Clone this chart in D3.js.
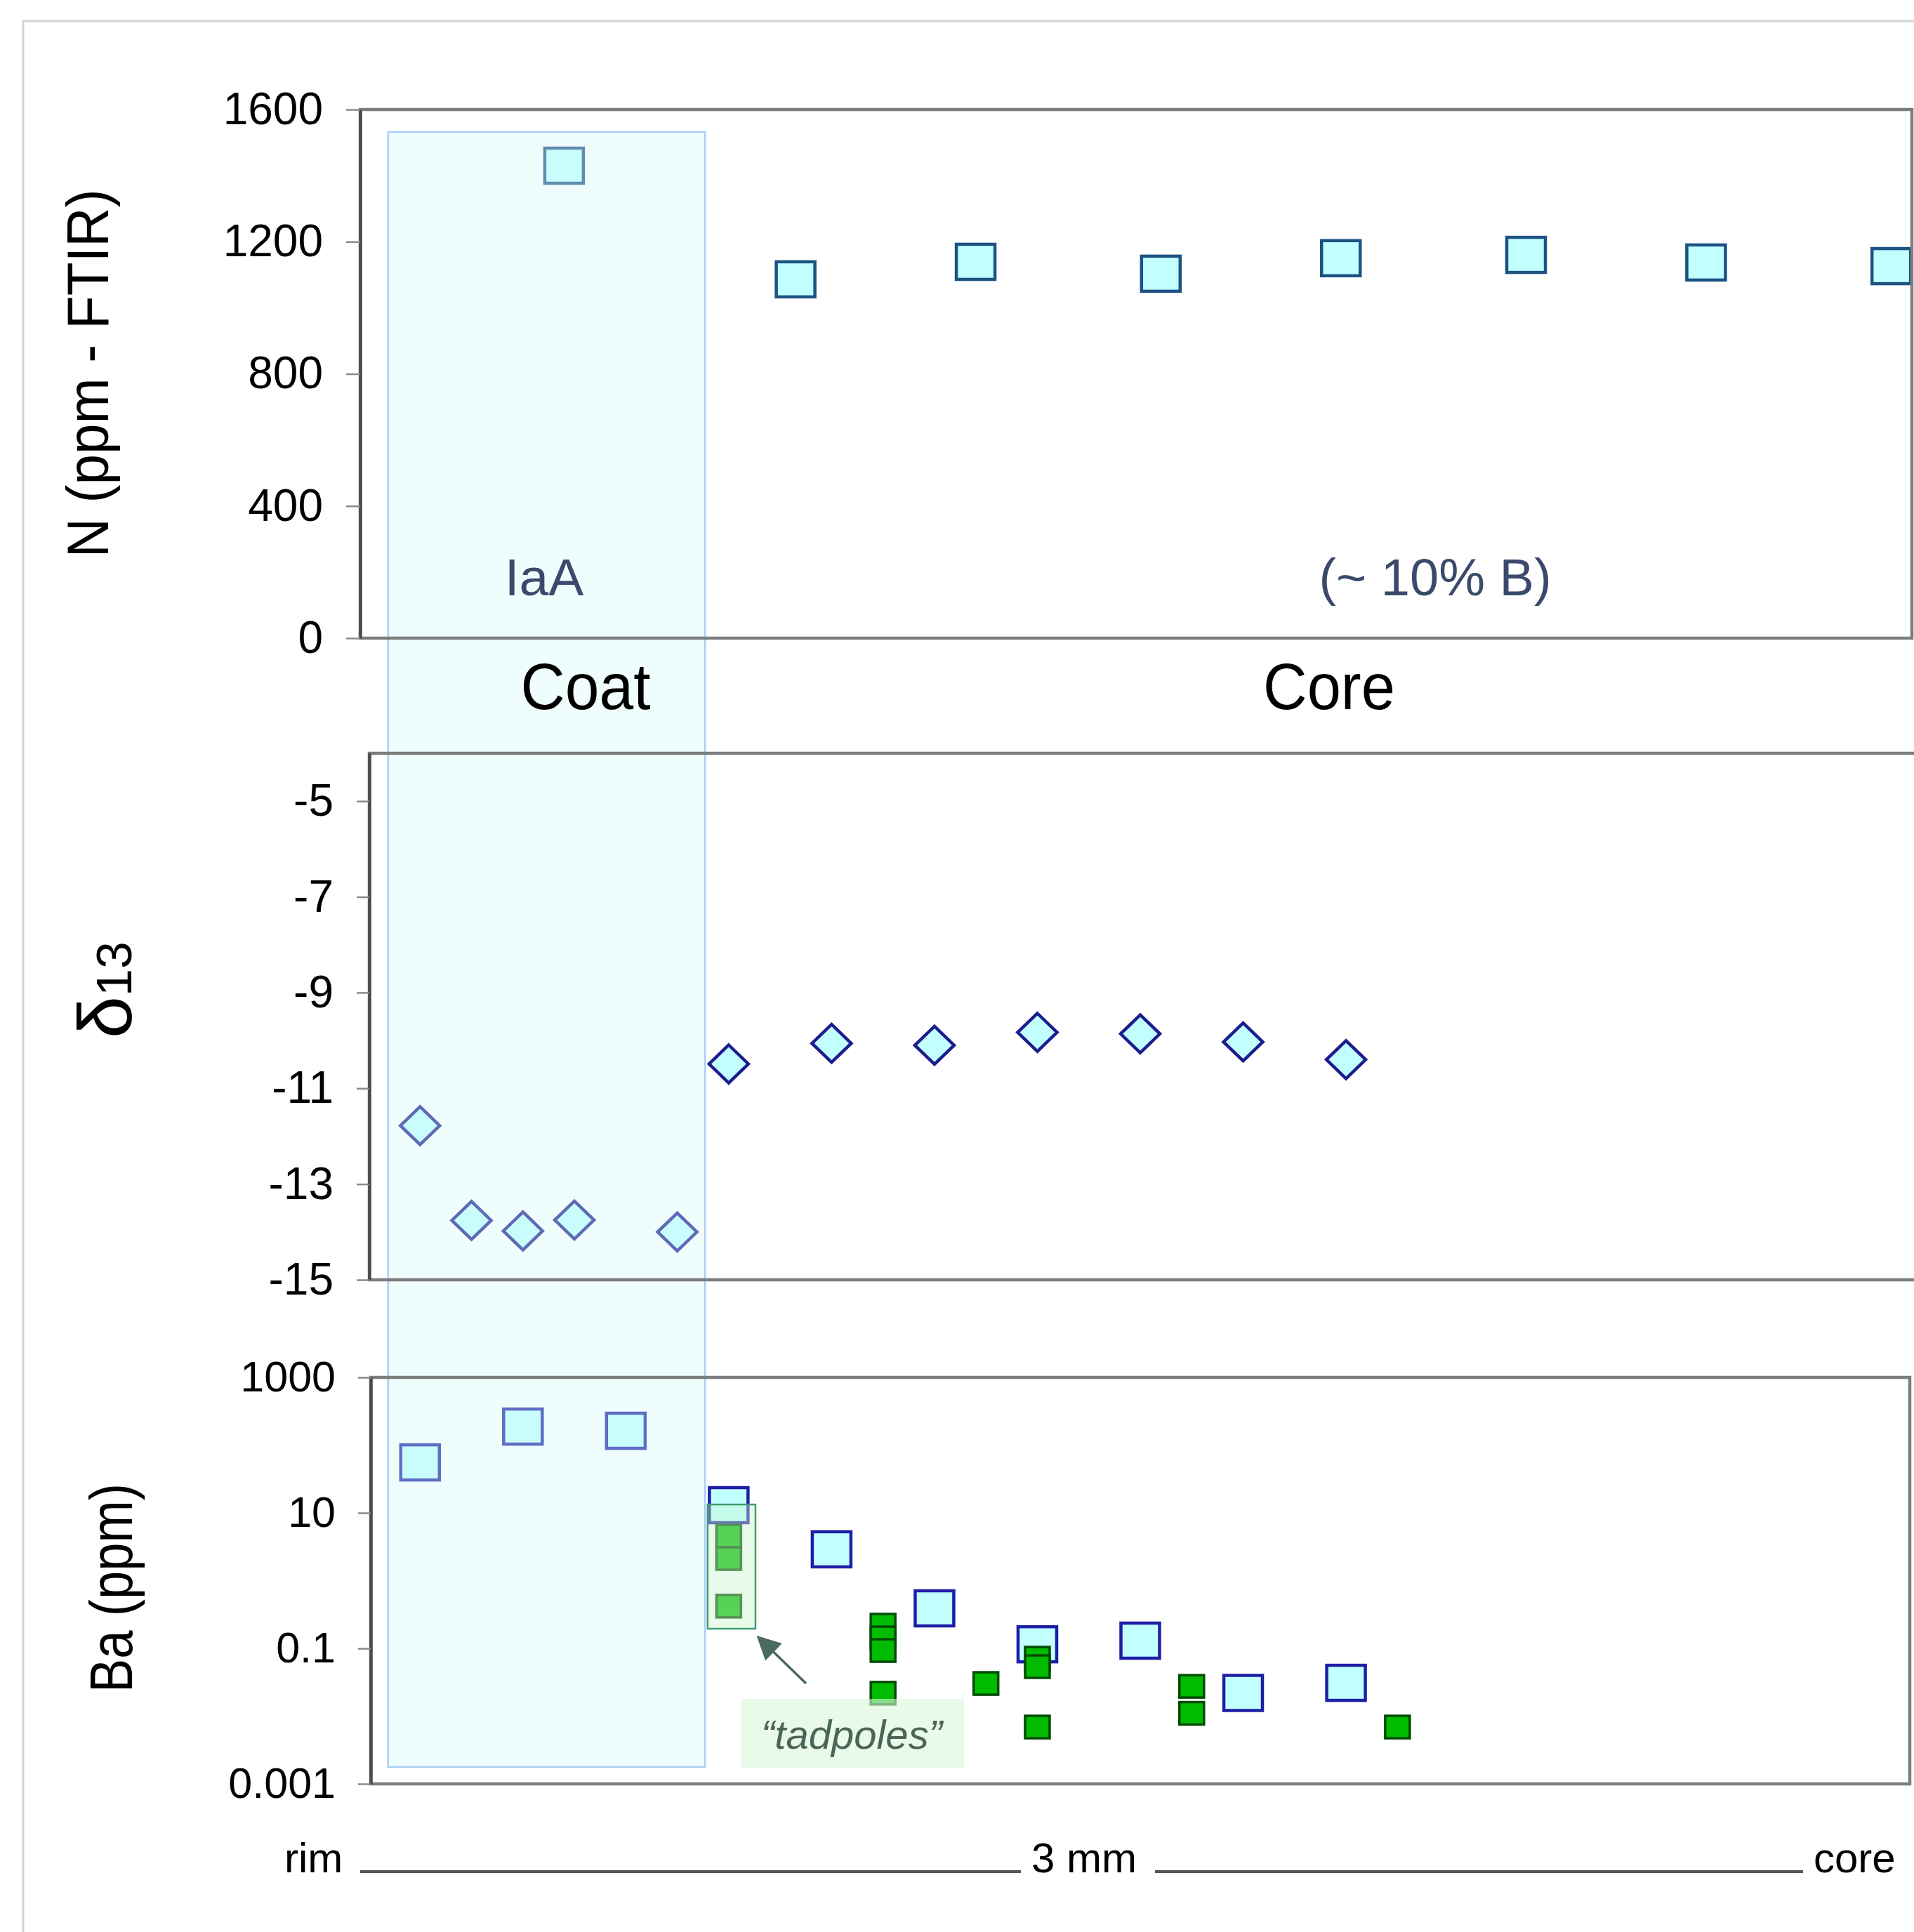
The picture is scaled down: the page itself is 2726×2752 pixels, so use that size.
<!DOCTYPE html>
<html><head><meta charset="utf-8">
<script src="https://cdn.jsdelivr.net/npm/d3@7"></script>
<style>body{margin:0;background:#fff} svg{display:block}</style>
</head><body>
<svg id="c" width="2726" height="2752"></svg>
<script>
// ---- data (x = distance from rim, mm) ----
const nPos = [0.38, 0.83, 1.18, 1.54, 1.89, 2.25, 2.60, 2.96];
const nVal = [1430, 1086, 1139, 1103, 1150, 1160, 1137, 1126];
const nTicks = [0, 400, 800, 1200, 1600];

const dPos = [0.1, 0.2, 0.3, 0.4, 0.6, 0.7, 0.9, 1.1, 1.3, 1.5, 1.7, 1.9];
const dVal = [-11.78, -13.76, -13.98, -13.75, -14.0, -10.49, -10.06, -10.1, -9.83, -9.86, -10.03, -10.4];
const dTicks = [-5, -7, -9, -11, -13, -15];

const baPos = [0.1, 0.3, 0.5, 0.7, 0.9, 1.1, 1.3, 1.5, 1.7, 1.9];
const baVal = [55.6, 188, 163, 13.0, 2.9, 0.39, 0.115, 0.13, 0.022, 0.031];
const tadPos = [0.7, 0.7, 0.7];
const tadVal = [4.55, 2.12, 0.42];
const grPos = [1.0, 1.0, 1.0, 1.0, 1.2, 1.3, 1.3, 1.3, 1.6, 1.6, 2.0];
const grVal = [0.22, 0.143, 0.093, 0.0218, 0.0303, 0.0716, 0.0537, 0.0069, 0.0275, 0.011, 0.0069];
const baTicks = [1000, 10, 0.1, 0.001];
const baTickLabels = ["1000", "10", "0.1", "0.001"];

const coatRange = [0.038, 0.654];           // mm
const tadBox = {x0: 0.659, x1: 0.752, top: 13.3, bottom: 0.195};

// ---- setup ----
const FONT = '"Liberation Sans", Arial, Helvetica, sans-serif';
const svg = d3.select('#c');
const x = d3.scaleLinear().domain([0, 3]).range([525, 2723]);
const yN = d3.scaleLinear().domain([0, 1600]).range([909, 156]);
const yD = d3.scaleLinear().domain([-15, -4]).range([1823, 1073]);
const yB = d3.scaleLog().domain([0.001, 1000]).range([2541, 1962]);

// outer frame
svg.append('path').attr('d', 'M33,2770V30H2740').attr('fill', 'none')
  .attr('stroke', '#cdd5d5').attr('stroke-width', 3);

const cyan = '#c2ffff';
const SW = 55, SH = 50;

// top panel squares
svg.append('g').selectAll('rect').data(nPos).join('rect')
  .attr('x', (d) => x(d) - SW / 2).attr('y', (d, i) => yN(nVal[i]) - SH / 2)
  .attr('width', SW).attr('height', SH)
  .attr('fill', cyan).attr('stroke', '#1d5283').attr('stroke-width', 4.5);

// middle diamonds
svg.append('g').selectAll('path').data(dPos).join('path')
  .attr('d', (d, i) => {
    const cx = x(d), cy = yD(dVal[i]);
    return `M${cx},${cy - 27}L${cx + 28},${cy}L${cx},${cy + 27}L${cx - 28},${cy}Z`;
  })
  .attr('fill', cyan).attr('stroke', '#1c1c8e').attr('stroke-width', 4.5);

// bottom: blue squares
svg.append('g').selectAll('rect').data(baPos).join('rect')
  .attr('x', (d) => x(d) - SW / 2).attr('y', (d, i) => yB(baVal[i]) - SH / 2)
  .attr('width', SW).attr('height', SH)
  .attr('fill', cyan).attr('stroke', '#1e1ea6').attr('stroke-width', 4.5);

const GW = 35, GH = 32;
// green squares
svg.append('g').selectAll('rect').data(grPos).join('rect')
  .attr('x', (d) => x(d) - GW / 2).attr('y', (d, i) => yB(grVal[i]) - GH / 2)
  .attr('width', GW).attr('height', GH)
  .attr('fill', '#00bb00').attr('stroke', '#004c00').attr('stroke-width', 3.5);
// tadpole squares
svg.append('g').selectAll('rect').data(tadPos).join('rect')
  .attr('x', (d) => x(d) - GW / 2).attr('y', (d, i) => yB(tadVal[i]) - GH / 2)
  .attr('width', GW).attr('height', GH)
  .attr('fill', '#00bb00').attr('stroke', '#004c00').attr('stroke-width', 3.5);

// coat overlay
svg.append('rect')
  .attr('x', x(coatRange[0])).attr('y', 188)
  .attr('width', x(coatRange[1]) - x(coatRange[0])).attr('height', 2517 - 188)
  .attr('fill', 'rgba(214,249,249,0.36)').attr('stroke', '#a8cef6').attr('stroke-width', 2.5);

// panel frames
const frameCol = '#7d7d7d';
svg.append('rect').attr('x', 513).attr('y', 156).attr('width', 2723 - 513).attr('height', 909 - 156)
  .attr('fill', 'none').attr('stroke', frameCol).attr('stroke-width', 4.5);
svg.append('rect').attr('x', 526).attr('y', 1073).attr('width', 2760 - 526).attr('height', 1823 - 1073)
  .attr('fill', 'none').attr('stroke', frameCol).attr('stroke-width', 4.5);
svg.append('rect').attr('x', 528).attr('y', 1962).attr('width', 2720 - 528).attr('height', 2541 - 1962)
  .attr('fill', 'none').attr('stroke', frameCol).attr('stroke-width', 4.5);

function styleAxis(fs) {
  return (g) => {
    g.select('.domain').attr('stroke', '#4a4a4a').attr('stroke-width', 4.5);
    g.selectAll('.tick line').attr('stroke', '#8a8a8a').attr('stroke-width', 2.5);
    g.selectAll('.tick text').attr('font-family', FONT).attr('font-size', fs).attr('fill', '#000');
  };
}
svg.append('g').attr('transform', 'translate(513,0)')
  .call(d3.axisLeft(yN).tickValues(nTicks).tickSize(20).tickSizeOuter(0).tickPadding(33).tickFormat(d3.format('d')))
  .call(styleAxis(64));
svg.append('g').attr('transform', 'translate(526,0)')
  .call(d3.axisLeft(yD).tickValues(dTicks).tickSize(18).tickSizeOuter(0).tickPadding(33).tickFormat((d) => String(d).replace('−', '-')))
  .call(styleAxis(64));
svg.append('g').attr('transform', 'translate(528,0)')
  .call(d3.axisLeft(yB).tickValues(baTicks).tickSize(18).tickSizeOuter(0).tickPadding(32).tickFormat((d, i) => baTickLabels[i]))
  .call(styleAxis(61));

// tadpole highlight box
svg.append('rect')
  .attr('x', x(tadBox.x0)).attr('y', yB(tadBox.top))
  .attr('width', x(tadBox.x1) - x(tadBox.x0)).attr('height', yB(tadBox.bottom) - yB(tadBox.top))
  .attr('fill', 'rgba(204,243,204,0.42)').attr('stroke', '#3f9d6f').attr('stroke-width', 2.5);

// arrow
const defs = svg.append('defs');
defs.append('marker').attr('id', 'ah').attr('viewBox', '0 0 10 10').attr('refX', 9).attr('refY', 5)
  .attr('markerWidth', 40).attr('markerHeight', 34).attr('markerUnits', 'userSpaceOnUse')
  .attr('orient', 'auto')
  .append('path').attr('d', 'M0,0L10,5L0,10Z').attr('fill', '#4b6b5c');
svg.append('line').attr('x1', 1148).attr('y1', 2398).attr('x2', 1080).attr('y2', 2332)
  .attr('stroke', '#4b6b5c').attr('stroke-width', 3.5).attr('marker-end', 'url(#ah)');

// tadpoles label box
svg.append('rect').attr('x', 1056).attr('y', 2420).attr('width', 1373 - 1056).attr('height', 2518 - 2420)
  .attr('fill', 'rgba(218,247,218,0.6)');
svg.append('text').attr('x', 1213).attr('y', 2491).attr('text-anchor', 'middle')
  .attr('font-family', FONT).attr('font-style', 'italic').attr('font-size', 58).attr('fill', '#4a6659')
  .text('\u201Ctadpoles\u201D');

// panel annotations
const ann = '#3b4a6c';
svg.append('text').attr('x', 775).attr('y', 848).attr('text-anchor', 'middle')
  .attr('font-family', FONT).attr('font-size', 75).attr('fill', ann).text('IaA');
svg.append('text').attr('x', 2044).attr('y', 848).attr('text-anchor', 'middle')
  .attr('font-family', FONT).attr('font-size', 74).attr('fill', ann).text('(~ 10% B)');
svg.append('text').attr('x', 834).attr('y', 1010).attr('text-anchor', 'middle')
  .attr('font-family', FONT).attr('font-size', 92).attr('textLength', 185).attr('lengthAdjust', 'spacingAndGlyphs')
  .attr('fill', '#000').text('Coat');
svg.append('text').attr('x', 1893).attr('y', 1010).attr('text-anchor', 'middle')
  .attr('font-family', FONT).attr('font-size', 92).attr('textLength', 188).attr('lengthAdjust', 'spacingAndGlyphs')
  .attr('fill', '#000').text('Core');

// axis titles
svg.append('text').attr('transform', 'translate(154,532) rotate(-90)').attr('text-anchor', 'middle')
  .attr('font-family', FONT).attr('font-size', 84).attr('textLength', 525).attr('lengthAdjust', 'spacingAndGlyphs')
  .attr('fill', '#000').text('N (ppm - FTIR)');
const dl = svg.append('text').attr('transform', 'translate(187,1410) rotate(-90)').attr('text-anchor', 'middle')
  .attr('font-family', FONT).attr('fill', '#000');
dl.append('tspan').attr('font-size', 108).text('\u03B4');
dl.append('tspan').attr('font-size', 70).text('13');
svg.append('text').attr('transform', 'translate(188,2262) rotate(-90)').attr('text-anchor', 'middle')
  .attr('font-family', FONT).attr('font-size', 86).attr('textLength', 298).attr('lengthAdjust', 'spacingAndGlyphs')
  .attr('fill', '#000').text('Ba (ppm)');

// bottom scale text
const bt = (tx, t) => svg.append('text').attr('x', tx).attr('y', 2667)
  .attr('font-family', FONT).attr('font-size', 60).attr('fill', '#000').text(t);
bt(405, 'rim'); bt(1469, '3 mm'); bt(2583, 'core');
svg.append('line').attr('x1', 513).attr('x2', 1454).attr('y1', 2666).attr('y2', 2666)
  .attr('stroke', '#555').attr('stroke-width', 4);
svg.append('line').attr('x1', 1645).attr('x2', 2568).attr('y1', 2666).attr('y2', 2666)
  .attr('stroke', '#555').attr('stroke-width', 4);
</script>
</body></html>
